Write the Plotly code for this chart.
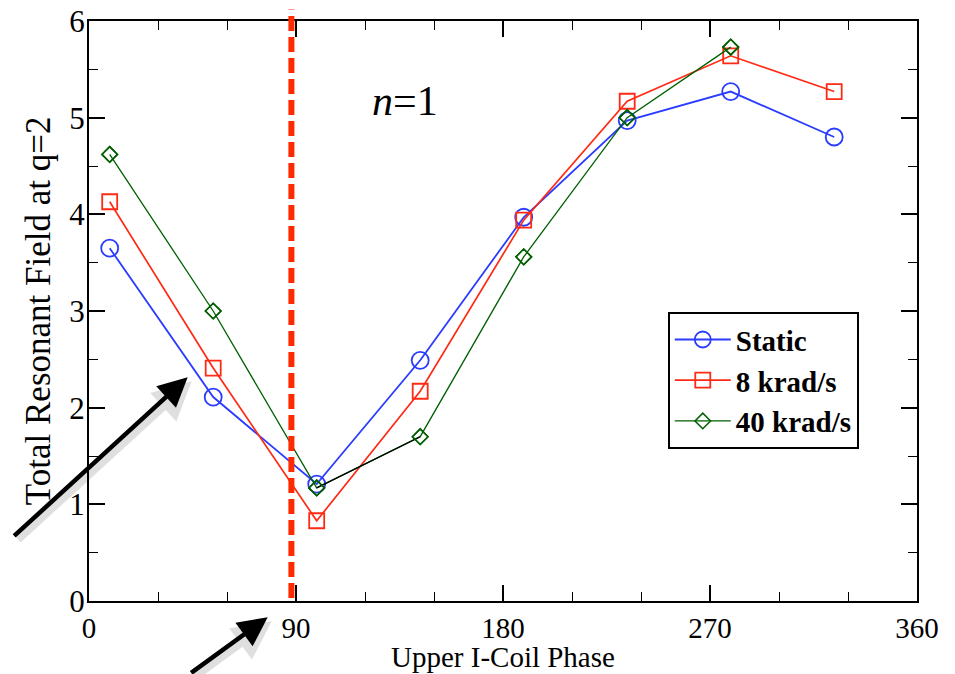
import plotly.graph_objects as go

# Data
phase = [9, 54, 99, 144, 189, 234, 279, 324]
static = [3.65, 2.11, 1.21, 2.49, 3.97, 4.97, 5.27, 4.80]
krad8 = [4.13, 2.41, 0.83, 2.17, 3.94, 5.17, 5.64, 5.27]
phase40 = [9, 54, 99, 144, 189, 234, 279]
krad40 = [4.62, 3.00, 1.17, 1.70, 3.56, 5.00, 5.73]
marker_phase = 88  # vertical dashed line

x_ticks = [0, 90, 180, 270, 360]
y_ticks = [0, 1, 2, 3, 4, 5, 6]

BLUE = "#2a3cff"
RED = "#ff2a14"
GREEN = "#006000"
SERIF = "Liberation Serif"

fig = go.Figure()

fig.add_trace(go.Scatter(
    x=phase, y=static, mode="lines+markers", name="Static",
    line=dict(color=BLUE, width=1.8),
    marker=dict(symbol="circle-open", size=17, color=BLUE, line=dict(width=1.8, color=BLUE)),
))
fig.add_trace(go.Scatter(
    x=phase, y=krad8, mode="lines+markers", name="8 krad/s",
    line=dict(color=RED, width=1.7),
    marker=dict(symbol="square-open", size=15, color=RED, line=dict(width=1.8, color=RED)),
))
fig.add_trace(go.Scatter(
    x=phase40, y=krad40, mode="lines+markers", name="40 krad/s",
    line=dict(color=GREEN, width=1.3),
    marker=dict(symbol="diamond-open", size=12, color=GREEN, line=dict(width=1.5, color=GREEN)),
))
# black segment of the 40 krad/s curve (as in the original figure)
fig.add_trace(go.Scatter(
    x=phase40[2:4], y=krad40[2:4], mode="lines", showlegend=False,
    line=dict(color="black", width=1.2), hoverinfo="skip",
))
fig.add_trace(go.Scatter(
    x=phase40, y=krad40, mode="markers", showlegend=False,
    marker=dict(symbol="diamond-open", size=12, color=GREEN, line=dict(width=1.5, color=GREEN)),
    hoverinfo="skip",
))

fig.add_shape(type="line", xref="x", yref="paper", x0=marker_phase, x1=marker_phase,
              y0=0.005, y1=1.02, layer="above",
              line=dict(color="#ff2a00", width=6, dash="15px,6px"))

axis_common = dict(
    showline=True, linecolor="black", linewidth=2, mirror="ticks",
    ticks="inside", ticklen=16, tickwidth=1.6, tickcolor="black",
    showgrid=False, zeroline=False, automargin=False,
)

fig.update_xaxes(
    range=[0, 360], tickvals=x_ticks, ticktext=[str(v) for v in x_ticks],
    minor=dict(dtick=30, tick0=0, ticks="inside", ticklen=9, tickwidth=1.4, tickcolor="black"),
    tickfont=dict(family=SERIF, size=29, color="black"),
    **axis_common,
)
fig.update_yaxes(
    range=[0, 6], tickvals=y_ticks, ticktext=[str(v) for v in y_ticks],
    minor=dict(dtick=0.5, tick0=0, ticks="inside", ticklen=9, tickwidth=1.4, tickcolor="black"),
    tickfont=dict(family=SERIF, size=31, color="black"),
    ticklabelstandoff=-4,
    **axis_common,
)

annotations = [
    dict(text="Total Resonant Field at q=2", xref="paper", yref="paper",
         x=-0.0614, y=0.5, textangle=-90, showarrow=False,
         font=dict(family=SERIF, size=35, color="black"), xanchor="center", yanchor="middle"),
    dict(text="Upper I-Coil Phase", xref="paper", yref="paper",
         x=0.5, y=-0.1264, yshift=-1, showarrow=False,
         font=dict(family=SERIF, size=29, color="black"), xanchor="center", yanchor="bottom"),
    dict(text="<i>n</i>=1", xref="x", yref="y", x=137.5, y=5.17, showarrow=False,
         font=dict(family=SERIF, size=42, color="black"), xanchor="center", yanchor="middle"),
]
# arrows (soft shadow first, then black)
for (hx, hy, ax, ay) in [(0.1192, 0.3857, -175, 160), (0.2158, -0.0281, -78, 73)]:
    annotations.append(dict(text="", xref="paper", yref="paper", x=hx, y=hy,
                            ax=ax, ay=ay, showarrow=True, arrowhead=2, arrowsize=1.1,
                            arrowwidth=7, arrowcolor="rgba(0,0,0,0.12)", standoff=0,
                            xshift=4, yshift=-4))
    annotations.append(dict(text="", xref="paper", yref="paper", x=hx, y=hy,
                            ax=ax, ay=ay, showarrow=True, arrowhead=2, arrowsize=1.3,
                            arrowwidth=4.5, arrowcolor="black", standoff=0))

fig.update_layout(
    width=955, height=674,
    margin=dict(l=89, r=38, t=21, b=73, autoexpand=False),
    paper_bgcolor="white", plot_bgcolor="white",
    annotations=annotations,
    showlegend=True,
    legend=dict(
        x=0.699, y=0.498, xanchor="left", yanchor="top",
        bgcolor="white", bordercolor="black", borderwidth=2,
        font=dict(family=SERIF, size=29, color="black", weight="bold"),
        itemwidth=56, tracegroupgap=0,
    ),
)

fig.write_html("out.html")
